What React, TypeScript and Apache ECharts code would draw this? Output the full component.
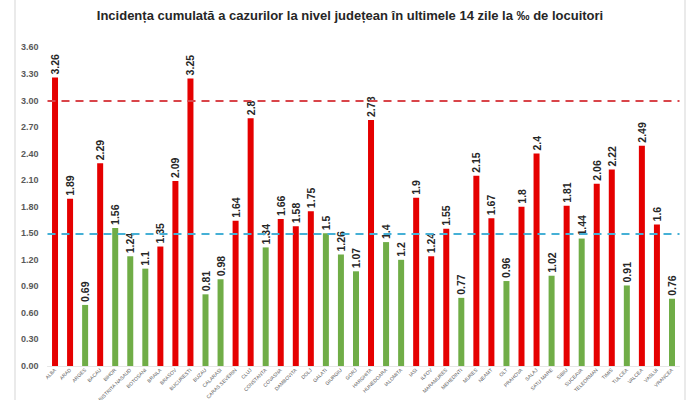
import React, { useEffect, useRef } from "react";
import * as echarts from "echarts";

const titleText = "Incidența cumulată a cazurilor la nivel județean în ultimele 14 zile la ‰ de locuitori";

const counties = [
  "ALBA", "ARAD", "ARGES", "BACAU", "BIHOR", "BISTRITA NASAUD", "BOTOSANI", "BRAILA", "BRASOV", "BUCURESTI",
  "BUZAU", "CALARASI", "CARAS SEVERIN", "CLUJ", "CONSTANTA", "COVASNA", "DAMBOVITA", "DOLJ", "GALATI", "GIURGIU",
  "GORJ", "HARGHITA", "HUNEDOARA", "IALOMITA", "IASI", "ILFOV", "MARAMURES", "MEHEDINTI", "MURES", "NEAMT",
  "OLT", "PRAHOVA", "SALAJ", "SATU MARE", "SIBIU", "SUCEAVA", "TELEORMAN", "TIMIS", "TULCEA", "VALCEA",
  "VASLUI", "VRANCEA",
];

const incidence = [
  3.26, 1.89, 0.69, 2.29, 1.56, 1.24, 1.1, 1.35, 2.09, 3.25,
  0.81, 0.98, 1.64, 2.8, 1.34, 1.66, 1.58, 1.75, 1.5, 1.26,
  1.07, 2.78, 1.4, 1.2, 1.9, 1.24, 1.55, 0.77, 2.15, 1.67,
  0.96, 1.8, 2.4, 1.02, 1.81, 1.44, 2.06, 2.22, 0.91, 2.49,
  1.6, 0.76,
];

// true = rising (red), false = falling (green)
const rising = [
  true, true, false, true, false, false, false, true, true, true,
  false, false, true, true, false, true, true, true, false, false,
  false, true, false, false, true, true, true, false, true, true,
  false, true, true, false, true, false, true, true, false, true,
  true, false,
];

const thresholds = [3.0, 1.5];

const RED = "#e50000";
const GREEN = "#70ad47";

export default function App() {
  const ref = useRef<HTMLDivElement>(null);

  useEffect(() => {
    if (!ref.current) return;
    const chart = echarts.init(ref.current, null, { renderer: "svg" });
    chart.setOption({
      animation: false,
      backgroundColor: "#ffffff",
      title: {
        text: titleText,
        left: "center",
        top: 4,
        textStyle: {
          fontFamily: "Liberation Sans, sans-serif",
          fontSize: 13,
          fontWeight: "bold",
          color: "#262626",
        },
      },
      graphic: [
        {
          type: "rect",
          shape: { x: 15, y: -5, width: 670, height: 410 },
          style: { fill: "none", stroke: "#e3e3e3", lineWidth: 1.5 },
          silent: true,
          z: -1,
        },
      ],
      grid: {
        left: 47.5,
        right: 20.5,
        top: 47.4,
        bottom: 34,
        containLabel: false,
        outerBoundsMode: "none",
      },
      xAxis: {
        type: "category",
        data: counties,
        axisLine: { show: true, lineStyle: { color: "#e6e6e6" } },
        axisTick: { show: false },
        axisLabel: {
          interval: 0,
          rotate: 45,
          fontSize: 5,
          color: "#595959",
          fontFamily: "Liberation Sans, sans-serif",
          margin: 3,
        },
      },
      yAxis: {
        type: "value",
        min: 0,
        max: 3.6,
        interval: 0.3,
        splitLine: { show: false },
        axisLine: { show: false },
        axisTick: { show: false },
        axisLabel: {
          formatter: (v: number) => v.toFixed(2),
          fontSize: 9,
          fontWeight: "bold",
          color: "#595959",
          fontFamily: "Liberation Sans, sans-serif",
          margin: 9,
        },
      },
      series: [
        {
          type: "bar",
          barWidth: 6,
          data: incidence.map((v, i) => ({
            value: v,
            itemStyle: { color: rising[i] ? RED : GREEN },
          })),
          label: {
            show: true,
            position: "top",
            rotate: 90,
            align: "left",
            verticalAlign: "middle",
            distance: 3,
            fontSize: 10.5,
            fontWeight: "bold",
            color: "#262626",
            fontFamily: "Liberation Sans, sans-serif",
          },
          markLine: {
            silent: true,
            symbol: "none",
            label: { show: false },
            data: [
              { yAxis: thresholds[0], lineStyle: { color: "#d9454a", type: [8, 6], width: 2 } },
              { yAxis: thresholds[1], lineStyle: { color: "#45b0d6", type: [8, 6], width: 2 } },
            ],
          },
        },
      ],
    });
    return () => chart.dispose();
  }, []);

  return (
    <div
      ref={ref}
      style={{ position: "fixed", left: 0, top: 0, width: 700, height: 400 }}
    />
  );
}
